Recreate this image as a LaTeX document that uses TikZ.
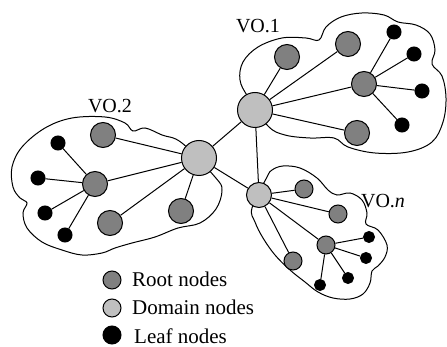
\documentclass[tikz,border=0pt]{standalone}
\usepackage{fontspec}
\setmainfont{Liberation Serif}
\begin{document}
\begin{tikzpicture}[x=1pt, y=-1pt]
  \tikzstyle{domnode} = [circle, draw, line width=1pt, fill=black!25, inner sep=0pt, minimum size=35pt]
  \tikzstyle{rootnode} = [circle, draw, line width=1pt, fill=black!50, inner sep=0pt, minimum size=25pt]
  \tikzstyle{leafnode} = [circle, draw, line width=1pt, fill=black, inner sep=0pt, minimum size=14pt]
  \tikzstyle{link} = [line width=1pt]
  \tikzstyle{cloud} = [line width=1pt]
  \tikzstyle{vo} = [font=\fontsize{20}{24}\selectfont, anchor=base]
  \tikzstyle{legend} = [font=\fontsize{21}{25}\selectfont, anchor=base west, inner sep=0pt]
  \useasboundingbox (0,0) rectangle (447,347);
  % clouds
  \draw[cloud] plot[smooth cycle, tension=0.6] coordinates {
    (248,97) (240,80) (243,62) (258,47) (282,38) (306,38) (319,40)
    (326,27) (341,17) (362,13) (384,15) (398,22)
    (416,25) (430,34) (435,50) (432,64)
    (442,76) (446,98) (443,122) (432,142) (408,152) (375,153) (348,147) (334,138)
    (310,138) (285,135) (268,126)};
  \draw[cloud] plot[smooth cycle, tension=0.6] coordinates {
    (182,143) (162,135) (145,128) (133,131)
    (125,123) (105,117) (72,118) (45,128) (22,147) (12,167) (13,187) (20,198) (27,203)
    (23,213) (27,228) (42,242) (62,250) (82,255) (102,253) (115,248)
    (132,243) (155,237) (178,228) (200,223) (216,209) (222,190) (215,177)};
  \draw[cloud] plot[smooth cycle, tension=0.6] coordinates {
    (267,177) (272,170) (283,166) (300,168) (317,178) (328,190) (337,195)
    (350,193) (362,200) (367,213) (366,224)
    (378,230) (387,245) (385,257) (378,266) (372,271)
    (370,283) (363,294) (350,299) (333,298) (318,292) (305,282) (290,270)
    (275,255) (263,238) (255,222) (252,208)};
  % VO.1
  \node[domnode] (d1) at (255, 110) {};
  \node[rootnode] (r1a) at (287, 57) {};
  \node[rootnode] (r1b) at (348, 44) {};
  \node[rootnode] (r1c) at (364, 84) {};
  \node[rootnode] (r1d) at (357, 133) {};
  \node[leafnode] (l1a) at (394, 32) {};
  \node[leafnode] (l1b) at (414, 54) {};
  \node[leafnode] (l1c) at (422, 91) {};
  \node[leafnode] (l1d) at (402, 125) {};
  % VO.2
  \node[domnode] (d2) at (199, 158) {};
  \node[rootnode] (r2a) at (103, 135) {};
  \node[rootnode] (r2b) at (95, 184) {};
  \node[rootnode] (r2c) at (110, 223) {};
  \node[rootnode] (r2d) at (181, 211) {};
  \node[leafnode] (l2a) at (58, 143) {};
  \node[leafnode] (l2b) at (38, 178) {};
  \node[leafnode] (l2c) at (45, 213) {};
  \node[leafnode] (l2d) at (65, 235) {};
  % VO.n
  \node[domnode, minimum size=25pt] (dn) at (259, 195) {};
  \node[rootnode, minimum size=18pt] (rna) at (304, 189) {};
  \node[rootnode, minimum size=18pt] (rnb) at (338, 214) {};
  \node[rootnode, minimum size=18pt] (rnc) at (326, 245) {};
  \node[rootnode, minimum size=18pt] (rnd) at (293, 261) {};
  \node[leafnode, minimum size=11pt] (lna) at (369, 237) {};
  \node[leafnode, minimum size=11pt] (lnb) at (366, 258) {};
  \node[leafnode, minimum size=11pt] (lnc) at (348, 278) {};
  \node[leafnode, minimum size=11pt] (lnd) at (320, 285) {};
  % labels
  \node[vo] (vo1) at (258, 33) {VO.1};
  \node[vo] (vo2) at (110, 113) {VO.2};
  \node[vo] (von) at (383, 208) {VO.\textit{n}};
  % links
  \draw[link] (d1) -- (d2);
  \draw[link] (d1) -- (dn);
  \draw[link] (d2) -- (dn);
  \draw[link] (d1) -- (r1a);
  \draw[link] (d1) -- (r1b);
  \draw[link] (d1) -- (r1c);
  \draw[link] (d1) -- (r1d);
  \draw[link] (r1c) -- (l1a);
  \draw[link] (r1c) -- (l1b);
  \draw[link] (r1c) -- (l1c);
  \draw[link] (r1c) -- (l1d);
  \draw[link] (d2) -- (r2a);
  \draw[link] (d2) -- (r2b);
  \draw[link] (d2) -- (r2c);
  \draw[link] (d2) -- (r2d);
  \draw[link] (r2b) -- (l2a);
  \draw[link] (r2b) -- (l2b);
  \draw[link] (r2b) -- (l2c);
  \draw[link] (r2b) -- (l2d);
  \draw[link] (dn) -- (rna);
  \draw[link] (dn) -- (rnb);
  \draw[link] (dn) -- (rnc);
  \draw[link] (dn) -- (rnd);
  \draw[link] (rnc) -- (lna);
  \draw[link] (rnc) -- (lnb);
  \draw[link] (rnc) -- (lnc);
  \draw[link] (rnc) -- (lnd);
  % legend
  \node[rootnode, minimum size=18pt] (kroot) at (112, 280) {};
  \node[domnode, minimum size=18pt] (kdomain) at (112, 308) {};
  \node[leafnode, minimum size=18pt] (kleaf) at (112, 335) {};
  \node[legend] (troot) at (132, 287) {Root nodes};
  \node[legend] (tdomain) at (132, 315) {Domain nodes};
  \node[legend] (tleaf) at (134, 343) {Leaf nodes};
\end{tikzpicture}
\end{document}
